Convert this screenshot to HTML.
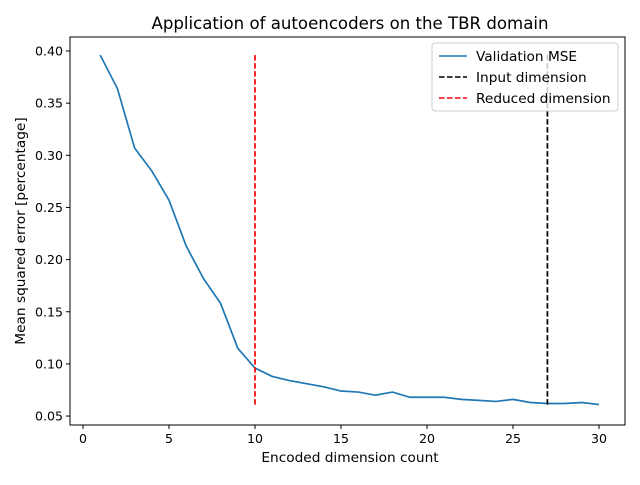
<!DOCTYPE html>
<html><head><meta charset="utf-8"><style>
body{margin:0;background:#fff;font-family:"Liberation Sans","DejaVu Sans",sans-serif}
svg text{font-family:"DejaVu Sans","Liberation Sans",sans-serif}
</style></head><body>
<svg id="chart" width="640" height="480" xmlns="http://www.w3.org/2000/svg">
<rect width="640" height="480" fill="#fff"/>
<g id="marks"></g>
<rect x="70" y="37" width="555" height="388" fill="none" stroke="#000" stroke-width="1"/>
<g id="axes"></g>
<text x="350" y="29" font-size="16.6" text-anchor="middle">Application of autoencoders on the TBR domain</text>
<text x="350" y="462" font-size="13.7" text-anchor="middle">Encoded dimension count</text>
<text transform="translate(25,231) rotate(-90)" font-size="13.7" text-anchor="middle">Mean squared error [percentage]</text>
<g>
<rect x="432" y="43" width="186" height="68" fill="#fff" fill-opacity="0.8" stroke="#ccc" rx="3"/>
<line x1="439" y1="56" x2="467" y2="56" stroke="#1f77b4" stroke-width="1.5"/>
<text x="476" y="61" font-size="13.7">Validation MSE</text>
<line x1="439" y1="77" x2="467" y2="77" stroke="#000" stroke-width="1.5" stroke-dasharray="5.5,2.5"/>
<text x="476" y="82" font-size="13.7">Input dimension</text>
<line x1="439" y1="98" x2="467" y2="98" stroke="red" stroke-width="1.5" stroke-dasharray="5.5,2.5"/>
<text x="476" y="103" font-size="13.7">Reduced dimension</text>
</g>
</svg>
<script>
const xs=[1,2,3,4,5,6,7,8,9,10,11,12,13,14,15,16,17,18,19,20,21,22,23,24,25,26,27,28,29,30];
const mse=[0.396,0.364,0.307,0.285,0.257,0.213,0.182,0.158,0.115,0.096,0.088,0.084,0.081,0.078,0.074,0.073,0.070,0.073,0.068,0.068,0.068,0.066,0.065,0.064,0.066,0.063,0.062,0.062,0.063,0.061];
const xTicks=[0,5,10,15,20,25,30];
const yTicks=[0.05,0.10,0.15,0.20,0.25,0.30,0.35,0.40];
const inputDim=27, reducedDim=10;
const sx=v=>83+v*17.2;
const sy=v=>51+(0.40-v)*1043;
const NS="http://www.w3.org/2000/svg";
const marks=document.getElementById('marks'), axes=document.getElementById('axes');
function mk(t,a,p){const e=document.createElementNS(NS,t);for(const k in a)e.setAttribute(k,a[k]);p.appendChild(e);return e;}
xTicks.forEach(t=>{
 const l=mk('line',{x1:sx(t),x2:sx(t),y1:425,y2:429,stroke:'#000'},axes);
 
 
 const tx=mk('text',{x:sx(t),y:443,'font-size':12.6,'text-anchor':'middle'},axes);tx.textContent=t;
 
 
});
yTicks.forEach(t=>{
 const l=mk('line',{x1:66,x2:70,y1:sy(t),y2:sy(t),stroke:'#000'},axes);
 
 
 const tx=mk('text',{x:63,y:sy(t)+4.5,'font-size':12.6,'text-anchor':'end'},axes);tx.textContent=t.toFixed(2);
 
 
});
const ymin=Math.min(...mse), ymax=Math.max(...mse);
const pl=mk('polyline',{points:xs.map((x,i)=>sx(x)+','+sy(mse[i])).join(' '),fill:'none',stroke:'#1f77b4','stroke-width':1.7},marks);


const r=mk('line',{x1:sx(reducedDim),x2:sx(reducedDim),y1:sy(ymin),y2:sy(ymax),stroke:'red','stroke-width':1.7,'stroke-dasharray':'5.5,2.5'},marks);


const ip=mk('line',{x1:sx(inputDim),x2:sx(inputDim),y1:sy(ymin),y2:sy(ymax),stroke:'#000','stroke-width':1.7,'stroke-dasharray':'5.5,2.5'},marks);


</script>
</body></html>
